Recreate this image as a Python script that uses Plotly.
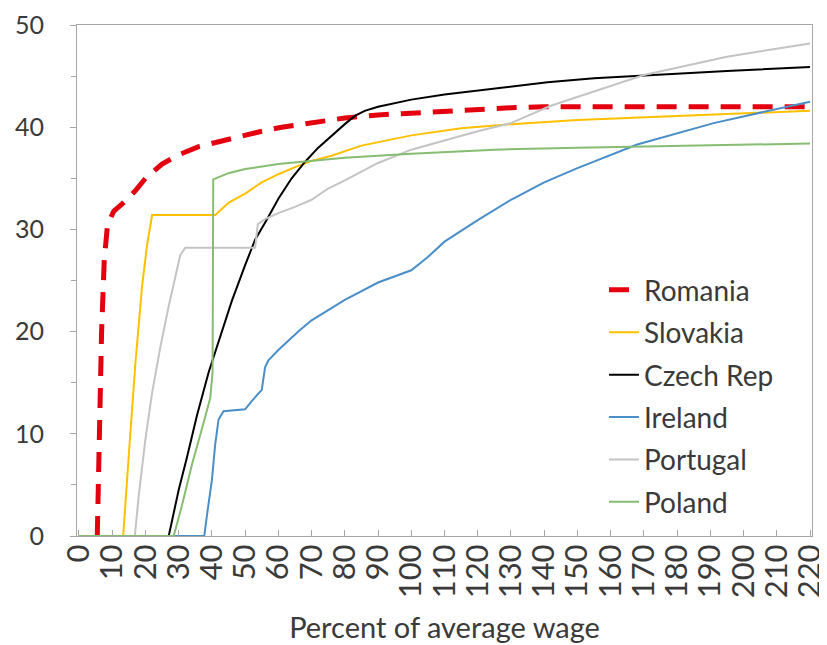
import plotly.graph_objects as go

# ---- data ----
romania_x = [5.5, 6.0, 6.8, 7.6, 8.6, 10.5, 13, 17, 20, 25, 30, 36, 42, 48, 55, 61, 70, 80, 90, 100, 110, 120, 130, 140, 160, 190, 220]
romania_y = [0, 10, 20, 27, 30.5, 31.8, 32.5, 33.8, 35.0, 36.4, 37.3, 38.1, 38.6, 39.0, 39.6, 40.0, 40.4, 40.9, 41.2, 41.4, 41.6, 41.8, 41.9, 42.0, 42.0, 42.0, 42.0]

slovakia_x = [0, 13.3, 15, 17, 19, 20.5, 22, 41, 45, 50, 55, 60, 65, 70, 76, 85, 100, 115, 130, 150, 180, 220]
slovakia_y = [0, 0, 8, 17, 24.5, 28.5, 31.4, 31.4, 32.6, 33.5, 34.6, 35.4, 36.1, 36.7, 37.2, 38.2, 39.2, 39.9, 40.3, 40.7, 41.1, 41.6]

czech_x = [0, 27, 28, 30, 32.5, 35.5, 39, 42.5, 46, 50, 53, 56.6, 60, 64, 68, 72, 76, 80, 83, 86, 90, 100, 110, 120, 130, 141, 155, 171, 195, 220]
czech_y = [0, 0, 1.5, 4.5, 7.7, 11.8, 16, 19.5, 23, 26.5, 29, 31, 33.0, 35, 36.6, 38.0, 39.2, 40.3, 41.1, 41.6, 42.0, 42.7, 43.2, 43.6, 44.0, 44.4, 44.8, 45.1, 45.5, 45.9]

ireland_x = [0, 37.7, 38.5, 40, 41, 42, 43.5, 47, 50, 52, 55, 56, 57, 60, 66, 70, 80, 90, 100, 105, 110, 120, 130, 140, 150, 168, 191, 220]
ireland_y = [0, 0, 2, 5.5, 9, 11.4, 12.2, 12.3, 12.4, 13.2, 14.3, 16.5, 17.2, 18.2, 20.0, 21.1, 23.1, 24.8, 26.0, 27.3, 28.8, 30.9, 32.9, 34.6, 36.0, 38.3, 40.4, 42.5]

portugal_x = [0, 16.8, 18, 20, 22, 24.5, 27, 29, 30.5, 32, 53, 53.8, 56, 60, 65, 70, 75, 80, 90, 100, 110, 120, 130, 142, 170, 195, 220]
portugal_y = [0, 0, 4, 9.5, 14, 18.5, 22.5, 25.5, 27.5, 28.2, 28.2, 30.5, 31.0, 31.6, 32.2, 32.9, 34.0, 34.8, 36.5, 37.8, 38.7, 39.6, 40.4, 42.1, 45.1, 46.9, 48.2]

poland_x = [0, 28.5, 31, 34, 37, 39.5, 40.2, 40.4, 45, 50, 60, 70, 80, 100, 125, 150, 180, 220]
poland_y = [0, 0, 3, 7, 10.5, 13.5, 16, 34.9, 35.5, 35.9, 36.4, 36.7, 37.0, 37.4, 37.8, 38.0, 38.2, 38.4]

x_ticks = list(range(0, 221, 10))
y_ticks = [0, 10, 20, 30, 40, 50]

FONT = "Lato"
TXT = "#3a3a3a"
AX = "#a6a6a6"

series = [
    ("Romania", romania_x, romania_y, dict(color="#e3000f", width=5, dash="20px,12px")),
    ("Slovakia", slovakia_x, slovakia_y, dict(color="#ffc000", width=2)),
    ("Czech Rep", czech_x, czech_y, dict(color="#000000", width=2)),
    ("Ireland", ireland_x, ireland_y, dict(color="#4a8ec9", width=2)),
    ("Portugal", portugal_x, portugal_y, dict(color="#c4c4c4", width=2)),
    ("Poland", poland_x, poland_y, dict(color="#86bd70", width=2)),
]

fig = go.Figure()
for i, (name, xs, ys, line) in enumerate(series):
    fig.add_trace(go.Scatter(x=xs, y=ys, mode="lines", name=name, line=line,
                             legendgroup=f"g{i}"))

# the page body adds an 8px offset, so margins are shifted to compensate
fig.update_layout(
    width=827, height=645,
    margin=dict(l=69, r=23, t=17, b=117),
    paper_bgcolor="white", plot_bgcolor="white",
    font=dict(family=FONT, size=25, color=TXT),
    showlegend=True,
    legend=dict(x=0.717, y=0.530, xanchor="left", yanchor="top",
                bgcolor="rgba(0,0,0,0)", tracegroupgap=3,
                font=dict(family=FONT, size=28, color=TXT),
                traceorder="grouped"),
    xaxis=dict(range=[-0.6, 220.6], tickmode="array", tickvals=x_ticks,
               ticktext=[str(v) for v in x_ticks], tickangle=-90,
               ticks="inside", ticklen=6, tickcolor=AX,
               showline=True, linecolor=AX, linewidth=1, mirror=True,
               showgrid=False, zeroline=False, automargin=False,
               tickfont=dict(family=FONT, size=31, color=TXT),
               ticklabelstandoff=-5,
               title=dict(text="Percent of average wage", standoff=20,
                          font=dict(family=FONT, size=29, color=TXT))),
    yaxis=dict(range=[0, 50], tickmode="array", tickvals=y_ticks,
               ticks="outside", ticklen=6, tickcolor=AX,
               minor=dict(dtick=5, tick0=0, ticks="outside", ticklen=5, tickcolor=AX),
               showline=True, linecolor=AX, linewidth=1, mirror=True,
               showgrid=False, zeroline=False, automargin=False,
               tickfont=dict(family=FONT, size=25, color=TXT),
               ticklabelstandoff=21),
)

fig.write_html("out.html")
